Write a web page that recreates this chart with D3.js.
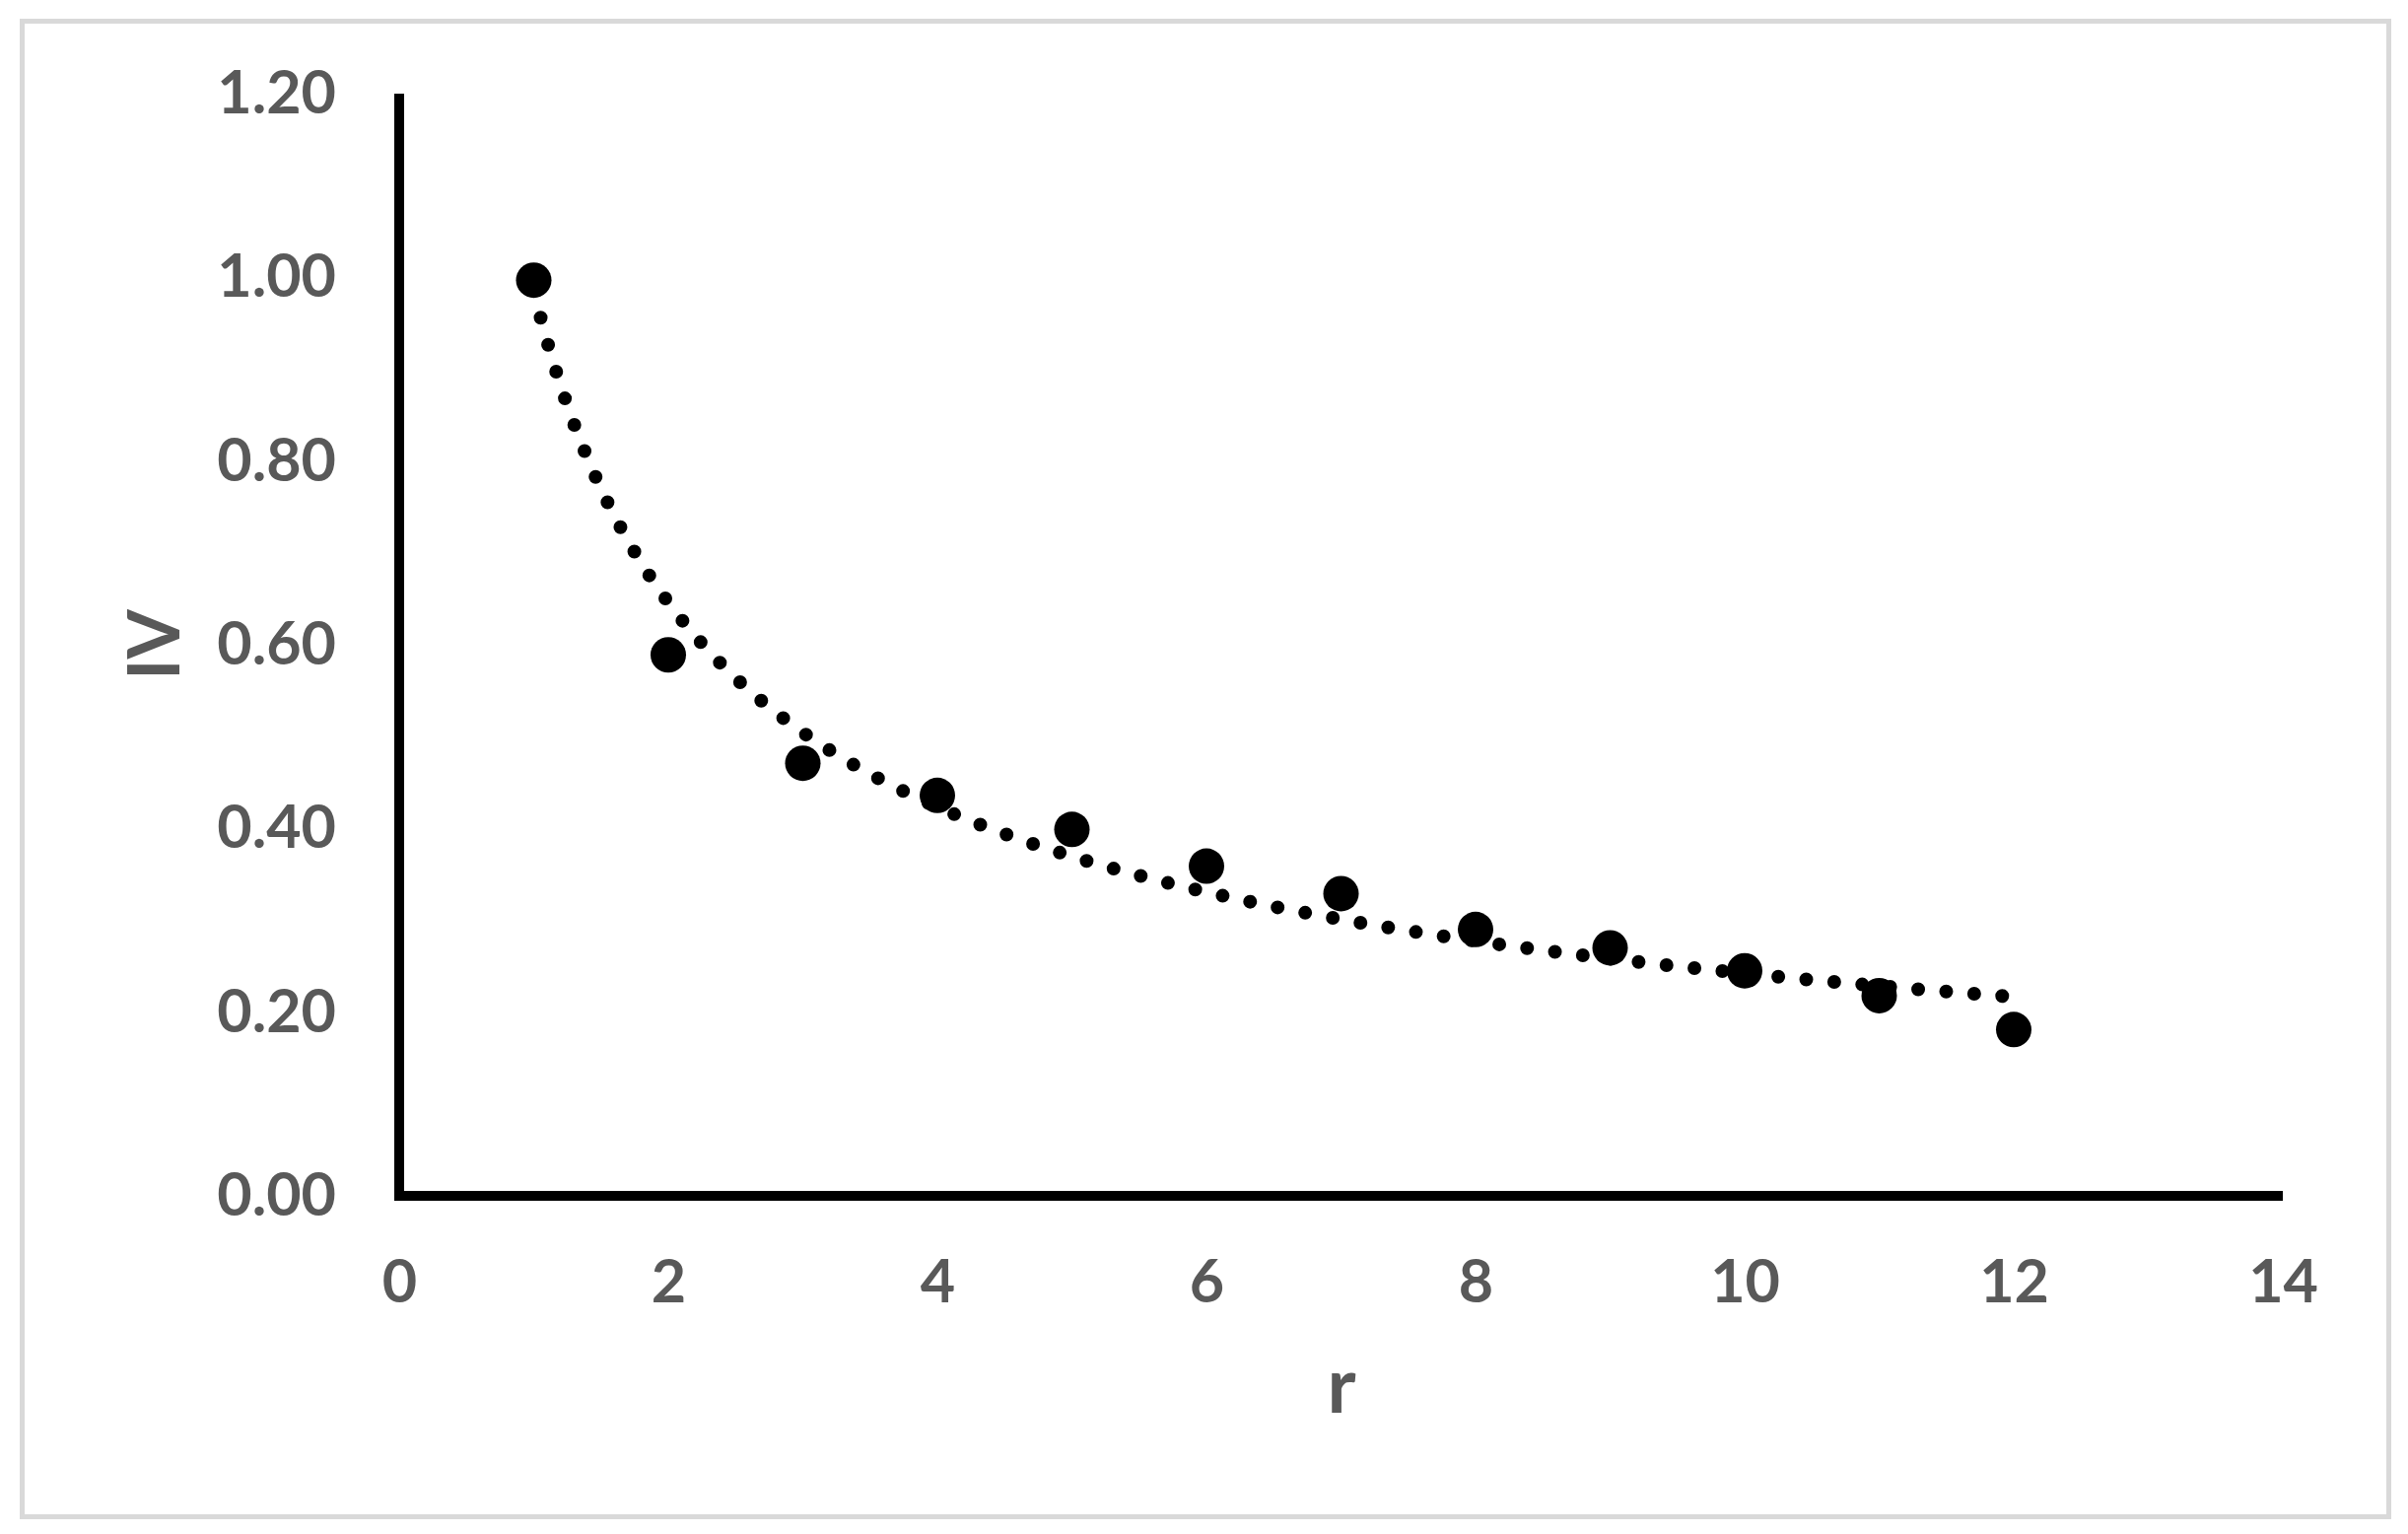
<!DOCTYPE html>
<html><head><meta charset="utf-8">
<script src="https://cdn.jsdelivr.net/npm/d3@7"></script>
<style>html,body{margin:0;padding:0;background:#fff;}svg{display:block;}</style>
</head><body>
<script>
const rValues = [1,2,3,4,5,6,7,8,9,10,11,12];
const ivValues = [0.997,0.589,0.471,0.436,0.399,0.359,0.329,0.290,0.270,0.245,0.218,0.181];
const xTicks = [0,2,4,6,8,10,12,14];
const yTicks = [0,0.2,0.4,0.6,0.8,1.0,1.2];
const xTitle = "r";
const yTitle = "IV";

const W = 2443, H = 1556;
const svg = d3.select("body").append("svg").attr("width", W).attr("height", H);
svg.append("rect").attr("width", W).attr("height", H).attr("fill", "#fff");
svg.append("rect").attr("x", 22.5).attr("y", 21.5).attr("width", 2401).attr("height", 1517)
  .attr("fill", "none").attr("stroke", "#d9d9d9").attr("stroke-width", 5);

const x = d3.scaleLinear().domain([0,14]).range([405, 2316]);
const y = d3.scaleLinear().domain([0,1.2]).range([1213, 95]);
const font = "Lato, 'Open Sans', sans-serif";
const grey = "#595959";

// axes
const yAx = svg.append("g").attr("transform", "translate(405,0)")
  .call(d3.axisLeft(y).tickValues(yTicks).tickFormat(d3.format(".2f")).tickSize(0).tickPadding(64));
const xAx = svg.append("g").attr("transform", "translate(0,1213)")
  .call(d3.axisBottom(x).tickValues(xTicks).tickFormat(d3.format("d")).tickSize(0).tickPadding(65));
[yAx, xAx].forEach(g => {
  g.select(".domain").remove();
  g.selectAll("text").attr("fill", grey).style("font-family", font).style("font-weight", 700).style("font-size", "61px");
});
// axis lines
svg.append("line").attr("x1", 405).attr("x2", 405).attr("y1", y(1.2)).attr("y2", 1218)
  .attr("stroke", "#000").attr("stroke-width", 10);
svg.append("line").attr("x1", 400).attr("x2", x(14)).attr("y1", 1213).attr("y2", 1213)
  .attr("stroke", "#000").attr("stroke-width", 10);

// power trendline (least squares on log-log)
const lx = rValues.map(Math.log), ly = ivValues.map(Math.log);
const mx = d3.mean(lx), my = d3.mean(ly);
const b = d3.sum(lx.map((v,i)=>(v-mx)*(ly[i]-my))) / d3.sum(lx.map(v=>(v-mx)*(v-mx)));
const a = Math.exp(my - b*mx);
const trend = d3.range(0, 401).map(i => { const xv = 1 + 11*i/400; return [xv, a*Math.pow(xv,b)]; });
svg.append("path").datum(trend)
  .attr("d", d3.line().x(d=>x(d[0])).y(d=>y(d[1])))
  .attr("fill","none").attr("stroke","#000").attr("stroke-width",14)
  .attr("stroke-linecap","round").attr("stroke-dasharray","0 28.5");

// markers
svg.append("g").selectAll("circle").data(rValues).join("circle")
  .attr("cx", d=>x(d)).attr("cy", (d,i)=>y(ivValues[i])).attr("r", 18).attr("fill","#000");

// titles
svg.append("text").attr("x", 1361).attr("y", 1433).attr("text-anchor","middle")
  .attr("fill", grey).style("font-family", font).style("font-weight",700).style("font-size","78px").text(xTitle);
svg.append("text").attr("transform","translate(182,654) rotate(-90)").attr("text-anchor","middle")
  .attr("fill", grey).style("font-family", font).style("font-weight",700).style("font-size","72px").text(yTitle);
</script>
</body></html>
